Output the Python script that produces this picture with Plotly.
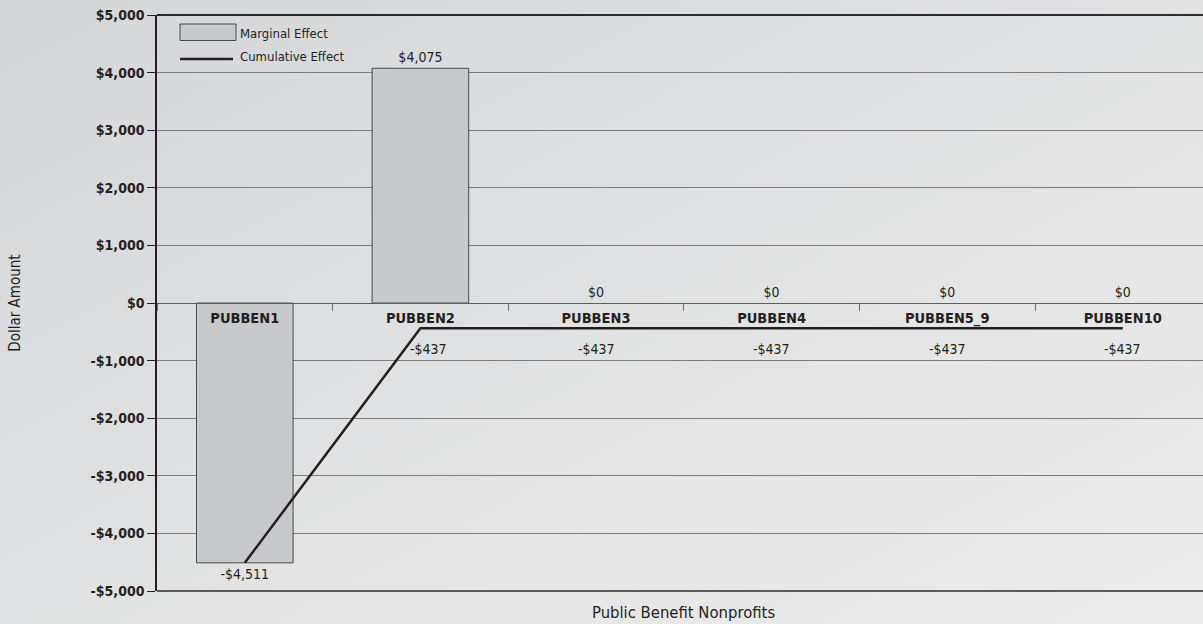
import base64
import plotly.graph_objects as go

# Data
categories = ["PUBBEN1", "PUBBEN2", "PUBBEN3", "PUBBEN4", "PUBBEN5_9", "PUBBEN10"]
marginal_effect = [-4511, 4075, 0, 0, 0, 0]
cumulative_effect = [-4511, -437, -437, -437, -437, -437]
y_ticks = [5000, 4000, 3000, 2000, 1000, 0, -1000, -2000, -3000, -4000, -5000]


def money(v):
    return ("-$" if v < 0 else "$") + f"{abs(v):,}"


FONT = "Liberation Sans Narrow, Arial Narrow, DejaVu Sans Condensed, sans-serif"
INK = "#231f20"

W, H = 1203, 624
L, R, T, B = 157, 0, 15, 33
PW, PH = W - L - R, H - T - B


def px_x(px):
    return (px - L) / PW


def px_y(py):
    return (T + PH - py) / PH


# Soft diagonal backdrop
svg = (
    f'<svg xmlns="http://www.w3.org/2000/svg" width="{W}" height="{H}">'
    '<defs><linearGradient id="g" x1="0" y1="0" x2="1" y2="1">'
    '<stop offset="0" stop-color="#d5d6d8"/><stop offset="1" stop-color="#ededed"/>'
    '</linearGradient></defs>'
    f'<rect width="{W}" height="{H}" fill="url(#g)"/></svg>'
)
bg_src = "data:image/svg+xml;base64," + base64.b64encode(svg.encode()).decode()

fig = go.Figure()

fig.add_trace(go.Bar(
    x=categories, y=marginal_effect, name="Marginal Effect",
    marker=dict(color="#c8c9cb",
                line=dict(color="#4a4a4a",
                          width=[1 if v != 0 else 0 for v in marginal_effect])),
    text=[money(v) for v in marginal_effect], textposition="outside",
    textfont=dict(family=FONT, size=14, color=INK),
    cliponaxis=False, showlegend=False,
))

fig.add_trace(go.Scatter(
    x=categories, y=cumulative_effect, name="Cumulative Effect",
    mode="lines", line=dict(color=INK, width=2.5),
    cliponaxis=False, showlegend=False,
))

# Value labels under the cumulative line (first point is labelled by its bar);
# the one at the bend is nudged right so the rising segment doesn't cross it
line_labels = [
    dict(x=c, y=v, xref="x", yref="y", text=money(v), showarrow=False,
         yanchor="middle", yshift=-21, xshift=(8 if i == 0 else 0),
         font=dict(family=FONT, size=14, color=INK))
    for i, (c, v) in enumerate(zip(categories[1:], cumulative_effect[1:]))
]

# Category width in pixels: six slots, right-most one runs past the page edge
slot = 175.6
x_hi = -0.5 + PW / slot

fig.update_layout(
    width=W, height=H,
    margin=dict(l=L, r=R, t=T, b=B),
    paper_bgcolor="#e0e1e2", plot_bgcolor="rgba(0,0,0,0)",
    bargap=0.45,
    font=dict(family=FONT, color=INK),
    images=[dict(
        source=bg_src, xref="paper", yref="paper",
        x=-L / PW, y=1 + T / PH, sizex=W / PW, sizey=H / PH,
        xanchor="left", yanchor="top", sizing="stretch", layer="below",
    )],
    xaxis=dict(
        type="category", range=[-0.5, x_hi],
        anchor="free", position=0.5,
        showline=True, linecolor="#5e5e5e", linewidth=1,
        ticks="outside", tickson="boundaries", ticklen=7, tickcolor="#6b6b6b",
        tickvals=categories, ticktext=[f"<b>{c}</b>" for c in categories],
        tickfont=dict(family=FONT, size=14.5, color=INK),
        ticklabelstandoff=2,
        showgrid=False, zeroline=False,
    ),
    yaxis=dict(
        range=[-5000, 5000], tickvals=y_ticks,
        ticktext=[f"<b>{money(v)}</b>" for v in y_ticks],
        tickfont=dict(family=FONT, size=14, color=INK),
        ticks="outside", ticklen=8, tickcolor=INK,
        showline=True, linecolor=INK, linewidth=1.5,
        showgrid=True, gridcolor="#7c7c7c", gridwidth=1,
        zeroline=False,
        title=dict(text="Dollar Amount", font=dict(family=FONT, size=15, color=INK), standoff=66),
    ),
    shapes=[
        dict(type="line", xref="paper", yref="paper", x0=0, x1=1, y0=1, y1=1,
             line=dict(color="#2b2b2b", width=2)),
        dict(type="line", xref="paper", yref="paper", x0=0, x1=1, y0=0, y1=0,
             line=dict(color="#2b2b2b", width=1.5)),
        # legend swatches
        dict(type="rect", xref="paper", yref="paper",
             x0=px_x(180), x1=px_x(236), y0=px_y(40.5), y1=px_y(24),
             fillcolor="#c8c9cb", line=dict(color="#4a4a4a", width=1)),
        dict(type="line", xref="paper", yref="paper",
             x0=px_x(180), x1=px_x(233), y0=px_y(59), y1=px_y(59),
             line=dict(color=INK, width=2.5)),
    ],
    annotations=line_labels + [
        dict(text="Marginal Effect", xref="paper", yref="paper",
             x=px_x(238), y=px_y(33), xanchor="left", yanchor="middle",
             showarrow=False, font=dict(family=FONT, size=13, color=INK)),
        dict(text="Cumulative Effect", xref="paper", yref="paper",
             x=px_x(238), y=px_y(57), xanchor="left", yanchor="middle",
             showarrow=False, font=dict(family=FONT, size=13, color=INK)),
        dict(text="Public Benefit Nonprofits", xref="paper", yref="paper",
             x=px_x(683), y=px_y(612), xanchor="center", yanchor="middle",
             showarrow=False, font=dict(family=FONT, size=16.5, color=INK)),
    ],
)

fig.write_html("out.html")
